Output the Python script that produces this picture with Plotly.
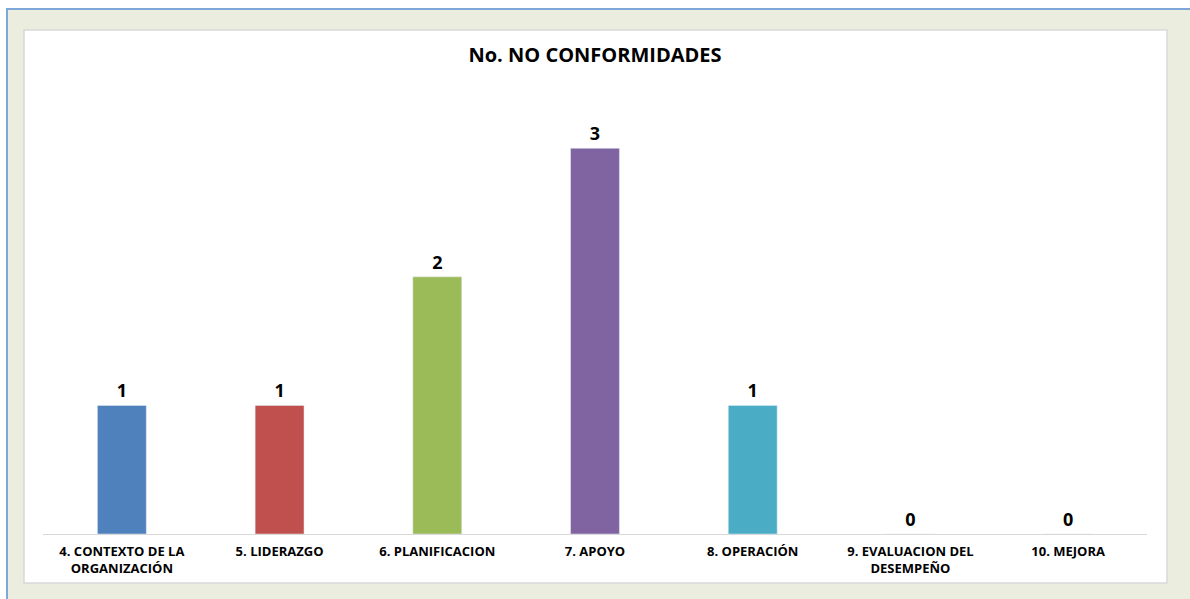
import plotly.graph_objects as go

categories = ["4. CONTEXTO DE LA<br>ORGANIZACIÓN", "5. LIDERAZGO", "6. PLANIFICACION",
              "7. APOYO", "8. OPERACIÓN", "9. EVALUACION DEL<br>DESEMPEÑO", "10. MEJORA"]
values = [1, 1, 2, 3, 1, 0, 0]
colors = ["#4F81BD", "#C0504D", "#9BBB59", "#8064A2", "#4BACC6", "#F79646", "#4F81BD"]

W, H = 1190, 599
L, R, T, B = 43, 1147, 84, 534
FONT = "Open Sans"

def px(x):
    return (x - L) / (R - L)

def py(y):
    return (B - y) / (B - T)

fig = go.Figure(go.Bar(
    x=categories, y=values, marker_color=colors, width=0.31,
    texttemplate="<b>%{y}</b>", textposition="outside", cliponaxis=False,
    textfont=dict(family=FONT, size=18, color="#000000"),
))

shapes = [
    dict(type="rect", xref="paper", yref="paper", x0=px(7), x1=px(1200), y0=py(9), y1=py(610),
         fillcolor="#EBEEDF", line=dict(width=0), layer="below"),
    dict(type="rect", xref="paper", yref="paper", x0=px(24), x1=px(1167), y0=py(30), y1=py(583),
         fillcolor="#FFFFFF", line=dict(color="#D9D9D9", width=1.5), layer="below"),
    dict(type="line", xref="paper", yref="paper", x0=px(7), x1=px(7), y0=py(8), y1=py(610),
         line=dict(color="#7DA7D9", width=2)),
    dict(type="line", xref="paper", yref="paper", x0=px(6), x1=px(1200), y0=py(9), y1=py(9),
         line=dict(color="#7DA7D9", width=2)),
]

fig.update_layout(
    width=W, height=H,
    margin=dict(l=L, r=W - R, t=T, b=H - B, autoexpand=False),
    paper_bgcolor="#FFFFFF", plot_bgcolor="rgba(0,0,0,0)",
    shapes=shapes,
    title=dict(text="<b>No. NO CONFORMIDADES</b>", x=0.5, xanchor="center",
               y=1 - 55 / H, yanchor="middle",
               font=dict(family=FONT, size=20, color="#000000")),
    xaxis=dict(showline=True, linecolor="#D9D9D9", linewidth=1, ticks="",
               ticklabelstandoff=5,
               tickfont=dict(family=FONT, size=13, color="#000000"),
               showgrid=False, automargin=False),
    yaxis=dict(range=[0, 3.5], visible=False, showgrid=False, automargin=False),
    showlegend=False,
    bargap=0.69,
)
fig.update_xaxes(tickprefix="<b>", ticksuffix="</b>")

fig.write_html("out.html", config={"displayModeBar": False},
               post_script="document.body.style.margin='0';document.body.style.padding='0';")
